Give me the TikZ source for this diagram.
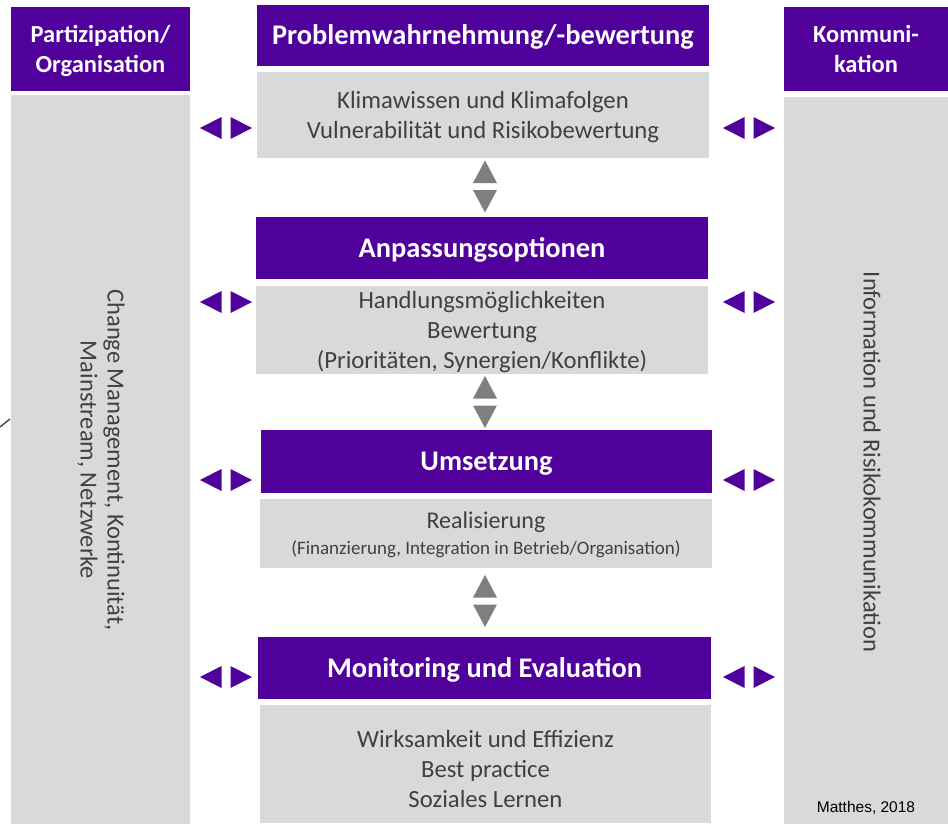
\documentclass[tikz,border=0pt]{standalone}
\usepackage{fontspec}
\setmainfont{Carlito}
\newfontfamily\arialfont{Liberation Sans}
\definecolor{purp}{RGB}{80,0,155}
\definecolor{boxgray}{RGB}{217,217,217}
\definecolor{arrgray}{RGB}{127,127,127}
\definecolor{txtgray}{RGB}{64,64,64}
\tikzset{
  hdr/.style={fill=purp, draw=none, text=white, inner sep=0pt, align=center, text depth=0pt,
    font=\bfseries\fontsize{28.4}{32}\selectfont},
  sidehdr/.style={hdr, font=\bfseries\fontsize{24.5}{30}\selectfont},
  graybox/.style={fill=boxgray, draw=none, text=txtgray, inner sep=0pt, align=center, text depth=0pt,
    font=\fontsize{24.7}{30}\selectfont},
  graytext/.style={text=txtgray, inner sep=0pt, align=center, font=\fontsize{24.7}{30}\selectfont},
  lr/.pic={
    \fill[purp] (-4.5,-11) -- (-4.5,11) -- (-26,0) -- cycle;
    \fill[purp] (4.5,-11) -- (4.5,11) -- (26,0) -- cycle;
  },
  ud/.pic={
    \fill[arrgray] (-12,-3.5) -- (12,-3.5) -- (0,-26) -- cycle;
    \fill[arrgray] (-12,3.5) -- (12,3.5) -- (0,26) -- cycle;
  }
}
\begin{document}
\begin{tikzpicture}[x=1pt,y=-1pt]
\useasboundingbox (0,0) rectangle (948,825);
% side columns
\node[sidehdr, minimum width=179pt, minimum height=84pt] (lh) at (100.5,49) {Partizipation/\\Organisation};
\node[graybox, minimum width=179pt, minimum height=729pt] (lc) at (100.5,459.5) {};
\node[sidehdr, minimum width=164pt, minimum height=84pt] (rh) at (866,49) {Kommuni-\\kation};
\node[graybox, minimum width=164pt, minimum height=727pt] (rc) at (866,460.5) {};
\node[text=txtgray, rotate=-90, align=center, font=\fontsize{24.5}{27}\selectfont] (lt) at (101,460) {Change Management, Kontinuität,\\Mainstream, Netzwerke};
\node[text=txtgray, rotate=-90, align=center, font=\fontsize{24.5}{27}\selectfont] (rt) at (872,462) {Information und Risikokommunikation};
% center column
\node[hdr, minimum width=452pt, minimum height=61pt] (h1) at (483,35) {Problemwahrnehmung/-bewertung};
\node[graybox, minimum width=452pt, minimum height=86pt] (g1) at (483,115) {Klimawissen und Klimafolgen\\Vulnerabilität und Risikobewertung};
\node[hdr, minimum width=452pt, minimum height=62pt] (h2) at (482,248) {Anpassungsoptionen};
\node[graybox, minimum width=452pt, minimum height=88pt] (g2) at (482,330) {Handlungsmöglichkeiten\\Bewertung\\(Prioritäten, Synergien/Konflikte)};
\node[hdr, minimum width=451pt, minimum height=63pt] (h3) at (486.5,461.5) {Umsetzung};
\node[graybox, minimum width=452pt, minimum height=69pt] (g3) at (486,533.5) {};
\node[graytext, font=\fontsize{24}{27}\selectfont] (g3a) at (486,522) {Realisierung};
\node[graytext, font=\fontsize{19}{22}\selectfont] (g3b) at (486,549) {(Finanzierung, Integration in Betrieb/Organisation)};
\node[hdr, minimum width=453pt, minimum height=62pt] (h4) at (484.5,668) {Monitoring und Evaluation};
\node[graybox, minimum width=451pt, minimum height=118pt] (g4) at (485.5,764) {};
\node[graytext] (g4t) at (485.5,769) {Wirksamkeit und Effizienz\\Best practice\\Soziales Lernen};
% arrows between rows
\pic at (485,186.5) {ud};
\pic at (485,402) {ud};
\pic at (485,601) {ud};
% side arrow pairs
\foreach \yy in {128,302,480,677}{
  \pic at (226,\yy) {lr};
  \pic at (749,\yy) {lr};
}
% stray stroke
\coordinate (s1) at (0,427);
\coordinate (s2) at (10,419);
\draw[line width=1.3pt, txtgray!80!purp] (s1) -- (s2);
% credit
\node[font=\arialfont\fontsize{15.5}{18}\selectfont, text=black] (cr) at (866,808) {Matthes, 2018};
\end{tikzpicture}
\end{document}
